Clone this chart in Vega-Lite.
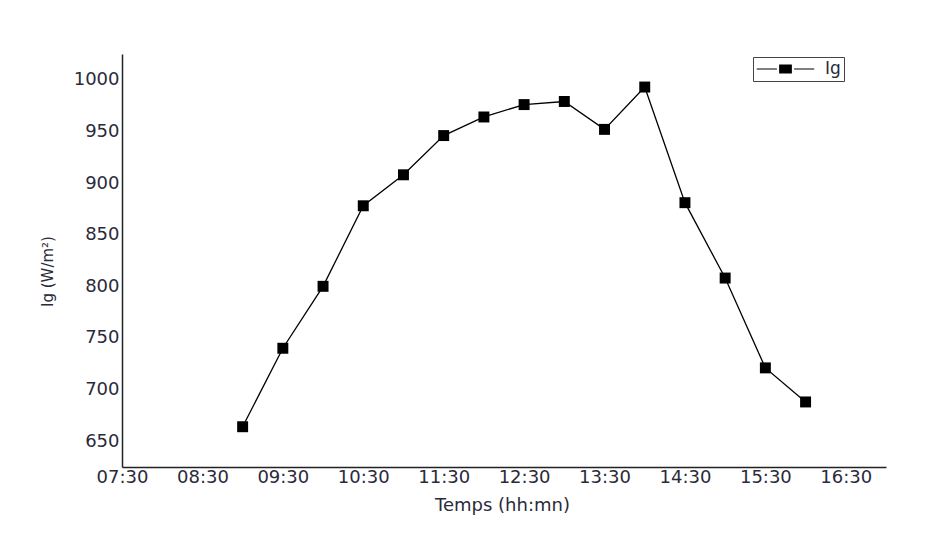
{
  "$schema": "https://vega.github.io/schema/vega-lite/v6.json",
  "autosize": "none",
  "width": 764,
  "height": 413,
  "padding": {"left": 122, "top": 54, "right": 49, "bottom": 76},
  "background": "white",
  "data": {
    "values": [
      {"t": "2000-01-01T09:00:00", "ig": 664, "s": "Ig"},
      {"t": "2000-01-01T09:30:00", "ig": 740, "s": "Ig"},
      {"t": "2000-01-01T10:00:00", "ig": 800, "s": "Ig"},
      {"t": "2000-01-01T10:30:00", "ig": 878, "s": "Ig"},
      {"t": "2000-01-01T11:00:00", "ig": 908, "s": "Ig"},
      {"t": "2000-01-01T11:30:00", "ig": 946, "s": "Ig"},
      {"t": "2000-01-01T12:00:00", "ig": 964, "s": "Ig"},
      {"t": "2000-01-01T12:30:00", "ig": 976, "s": "Ig"},
      {"t": "2000-01-01T13:00:00", "ig": 979, "s": "Ig"},
      {"t": "2000-01-01T13:30:00", "ig": 952, "s": "Ig"},
      {"t": "2000-01-01T14:00:00", "ig": 993, "s": "Ig"},
      {"t": "2000-01-01T14:30:00", "ig": 881, "s": "Ig"},
      {"t": "2000-01-01T15:00:00", "ig": 808, "s": "Ig"},
      {"t": "2000-01-01T15:30:00", "ig": 721, "s": "Ig"},
      {"t": "2000-01-01T16:00:00", "ig": 688, "s": "Ig"}
    ]
  },
  "mark": {"type": "line", "color": "#222", "strokeWidth": 1.3, "point": {"shape": "square", "size": 120, "filled": true, "color": "black"}},
  "encoding": {
    "x": {
      "field": "t",
      "type": "temporal",
      "scale": {"domain": [
        {"year": 2000, "month": 1, "date": 1, "hours": 7, "minutes": 30},
        {"year": 2000, "month": 1, "date": 1, "hours": 17, "minutes": 0}
      ]},
      "axis": {
        "title": "Temps (hh:mn)",
        "format": "%H:%M",
        "values": [
          {"year": 2000, "month": 1, "date": 1, "hours": 7, "minutes": 30},
          {"year": 2000, "month": 1, "date": 1, "hours": 8, "minutes": 30},
          {"year": 2000, "month": 1, "date": 1, "hours": 9, "minutes": 30},
          {"year": 2000, "month": 1, "date": 1, "hours": 10, "minutes": 30},
          {"year": 2000, "month": 1, "date": 1, "hours": 11, "minutes": 30},
          {"year": 2000, "month": 1, "date": 1, "hours": 12, "minutes": 30},
          {"year": 2000, "month": 1, "date": 1, "hours": 13, "minutes": 30},
          {"year": 2000, "month": 1, "date": 1, "hours": 14, "minutes": 30},
          {"year": 2000, "month": 1, "date": 1, "hours": 15, "minutes": 30},
          {"year": 2000, "month": 1, "date": 1, "hours": 16, "minutes": 30}
        ],
        "grid": false,
        "ticks": false,
        "labelPadding": 1,
        "labelFlush": false,
        "titlePadding": 10,
        "titleX": 380,
        "titleFontSize": 18
      }
    },
    "y": {
      "field": "ig",
      "type": "quantitative",
      "scale": {"domain": [625, 1025], "nice": false, "zero": false},
      "axis": {
        "title": "Ig (W/m²)",
        "format": "d",
        "values": [650, 700, 750, 800, 850, 900, 950, 1000],
        "grid": false,
        "ticks": false,
        "labelPadding": 3,
        "titlePadding": 18,
        "titleFontSize": 15,
        "titleY": 217
      }
    },
    "color": {
      "field": "s",
      "type": "nominal",
      "scale": {"range": ["black"]},
      "legend": {
        "title": null,
        "orient": "none",
        "legendX": 631,
        "legendY": 3,
        "strokeColor": "#444",
        "padding": 3,
        "clipHeight": 18,
        "symbolType": "M-1,0H-0.3M0.3,0H1M-0.2,-0.14H0.2V0.14H-0.2Z",
        "symbolSize": 3300,
        "symbolFillColor": "black",
        "symbolStrokeColor": "#222",
        "symbolStrokeWidth": 1.2,
        "labelFontSize": 17,
        "labelOffset": 10
      }
    }
  },
  "config": {
    "view": {"stroke": null},
    "font": "DejaVu Sans",
    "axis": {
      "domainColor": "#222",
      "domainWidth": 1.5,
      "labelFont": "DejaVu Sans",
      "labelFontSize": 18,
      "labelColor": "#2a2a3a",
      "titleFont": "DejaVu Sans",
      "titleFontSize": 17,
      "titleFontWeight": "normal",
      "titleColor": "#2a2a3a"
    },
    "legend": {"labelFont": "DejaVu Sans", "labelColor": "#2a2a3a"}
  }
}
